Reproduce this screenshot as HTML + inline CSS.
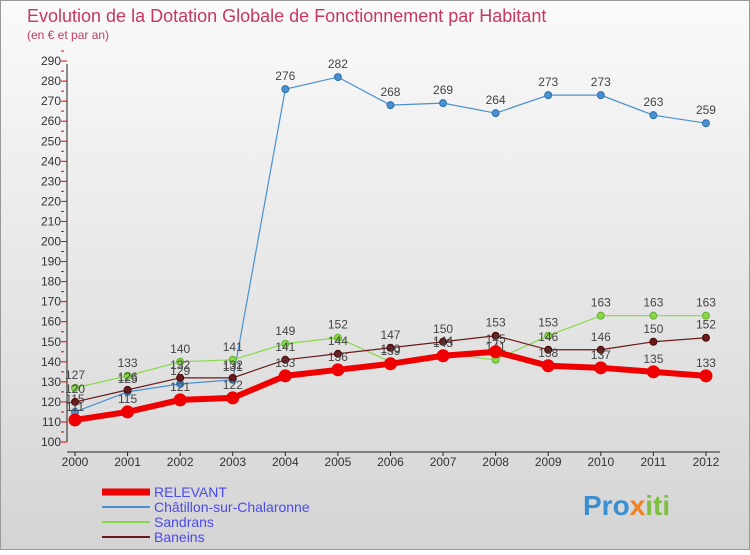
<!DOCTYPE html>
<html><head><meta charset="utf-8"><style>
body{margin:0;width:750px;height:550px;overflow:hidden;font-family:"Liberation Sans",sans-serif}
</style></head><body>
<svg width="750" height="550" viewBox="0 0 750 550" xmlns="http://www.w3.org/2000/svg" font-family="Liberation Sans, sans-serif">
<defs>
<linearGradient id="bg" x1="0" y1="0" x2="0" y2="1"><stop offset="0" stop-color="#fafafa"/><stop offset="1" stop-color="#d4d4d4"/></linearGradient>
</defs>
<rect x="0.5" y="0.5" width="749" height="549" fill="url(#bg)" stroke="#999"/>
<text x="27" y="22" font-size="18" fill="#c8385e">Evolution de la Dotation Globale de Fonctionnement par Habitant</text>
<text x="27" y="39" font-size="12" fill="#c8385e">(en € et par an)</text>
<g id="axes"></g>
<g id="series"></g>
<g id="legend"></g>
<text x="583" y="515" font-size="28" font-weight="bold" fill="#3a8fd0">Pro<tspan fill="#f08020">x</tspan><tspan fill="#80c040">iti</tspan></text>
</svg>
<script>
const years=[2000,2001,2002,2003,2004,2005,2006,2007,2008,2009,2010,2011,2012];
const yTicks=[100,110,120,130,140,150,160,170,180,190,200,210,220,230,240,250,260,270,280,290];
const relevant=[111,115,121,122,133,136,139,143,145,138,137,135,133];
const chatillon=[115,125,129,131,276,282,268,269,264,273,273,263,259];
const sandrans=[127,133,140,141,149,152,140,144,141,153,163,163,163];
const baneins=[120,126,132,132,141,144,147,150,153,146,146,150,152];
const NS="http://www.w3.org/2000/svg";
function X(i){return 75+i*52.58;}
function Y(v){return 442-(v-100)*2.005;}
function mk(t,a,p){const e=document.createElementNS(NS,t);for(const k in a)e.setAttribute(k,a[k]);p.appendChild(e);return e;}
const ax=document.getElementById('axes');
const yl=mk('line',{x1:67,y1:Y(100),x2:67,y2:Y(290)+3,stroke:'#222'},ax);


const xl=mk('line',{x1:67,y1:452,x2:720,y2:452,stroke:'#222'},ax);


yTicks.forEach(v=>{
 const t=mk('text',{x:61,y:Y(v)+4,'font-size':12,'text-anchor':'end',fill:'#333'},ax);t.textContent=v;
 
 
 mk('line',{x1:61,x2:67,y1:Y(v),y2:Y(v),stroke:'#e00'},ax);
 mk('line',{x1:61,x2:64,y1:Y(v+5),y2:Y(v+5),stroke:'#e00'},ax);
});
years.forEach((y,i)=>{
 mk('line',{x1:X(i),x2:X(i),y1:452,y2:456,stroke:'#222'},ax);
 const t=mk('text',{x:X(i),y:466,'font-size':12,'text-anchor':'middle',fill:'#333'},ax);t.textContent=y;
 
 
});
const sg=document.getElementById('series');
function draw(name,data,color,w,r,stroke){
 const g=mk('g',{},sg);
 
 
 const p=mk('polyline',{points:data.map((v,i)=>X(i)+','+Y(v)).join(' '),fill:'none',stroke:color,'stroke-width':w},g);
 
 
 data.forEach((v,i)=>{
  const c=mk('circle',{cx:X(i),cy:Y(v),r:r,fill:color,stroke:stroke,'stroke-width':1},g);
  
  
  const t=mk('text',{x:X(i),y:Y(v)-9,'font-size':12,'text-anchor':'middle',fill:'#444'},g);t.textContent=v;
  
  
 });
}
draw('chatillon',chatillon,'#4a90d0',1.2,3.5,'#2a70b0');
draw('sandrans',sandrans,'#88d848',1.2,3.5,'#60b030');
draw('baneins',baneins,'#6a1a1a',1.2,3.5,'#4a0a0a');
draw('relevant',relevant,'#ee0000',6,6,'#ee0000');
const lg=document.getElementById('legend');
[['RELEVANT','#ee0000',7],['Châtillon-sur-Chalaronne','#4a90d0',2],['Sandrans','#88d848',2],['Baneins','#6a1a1a',2]].forEach((d,i)=>{
 const y=492+i*15;
 const l=mk('line',{x1:102,x2:150,y1:y,y2:y,stroke:d[1],'stroke-width':d[2]},lg);
 
 
 const t=mk('text',{x:154,y:y+5,'font-size':14,fill:'#4a4af0'},lg);t.textContent=d[0];
 
 
});
</script>
</body></html>
